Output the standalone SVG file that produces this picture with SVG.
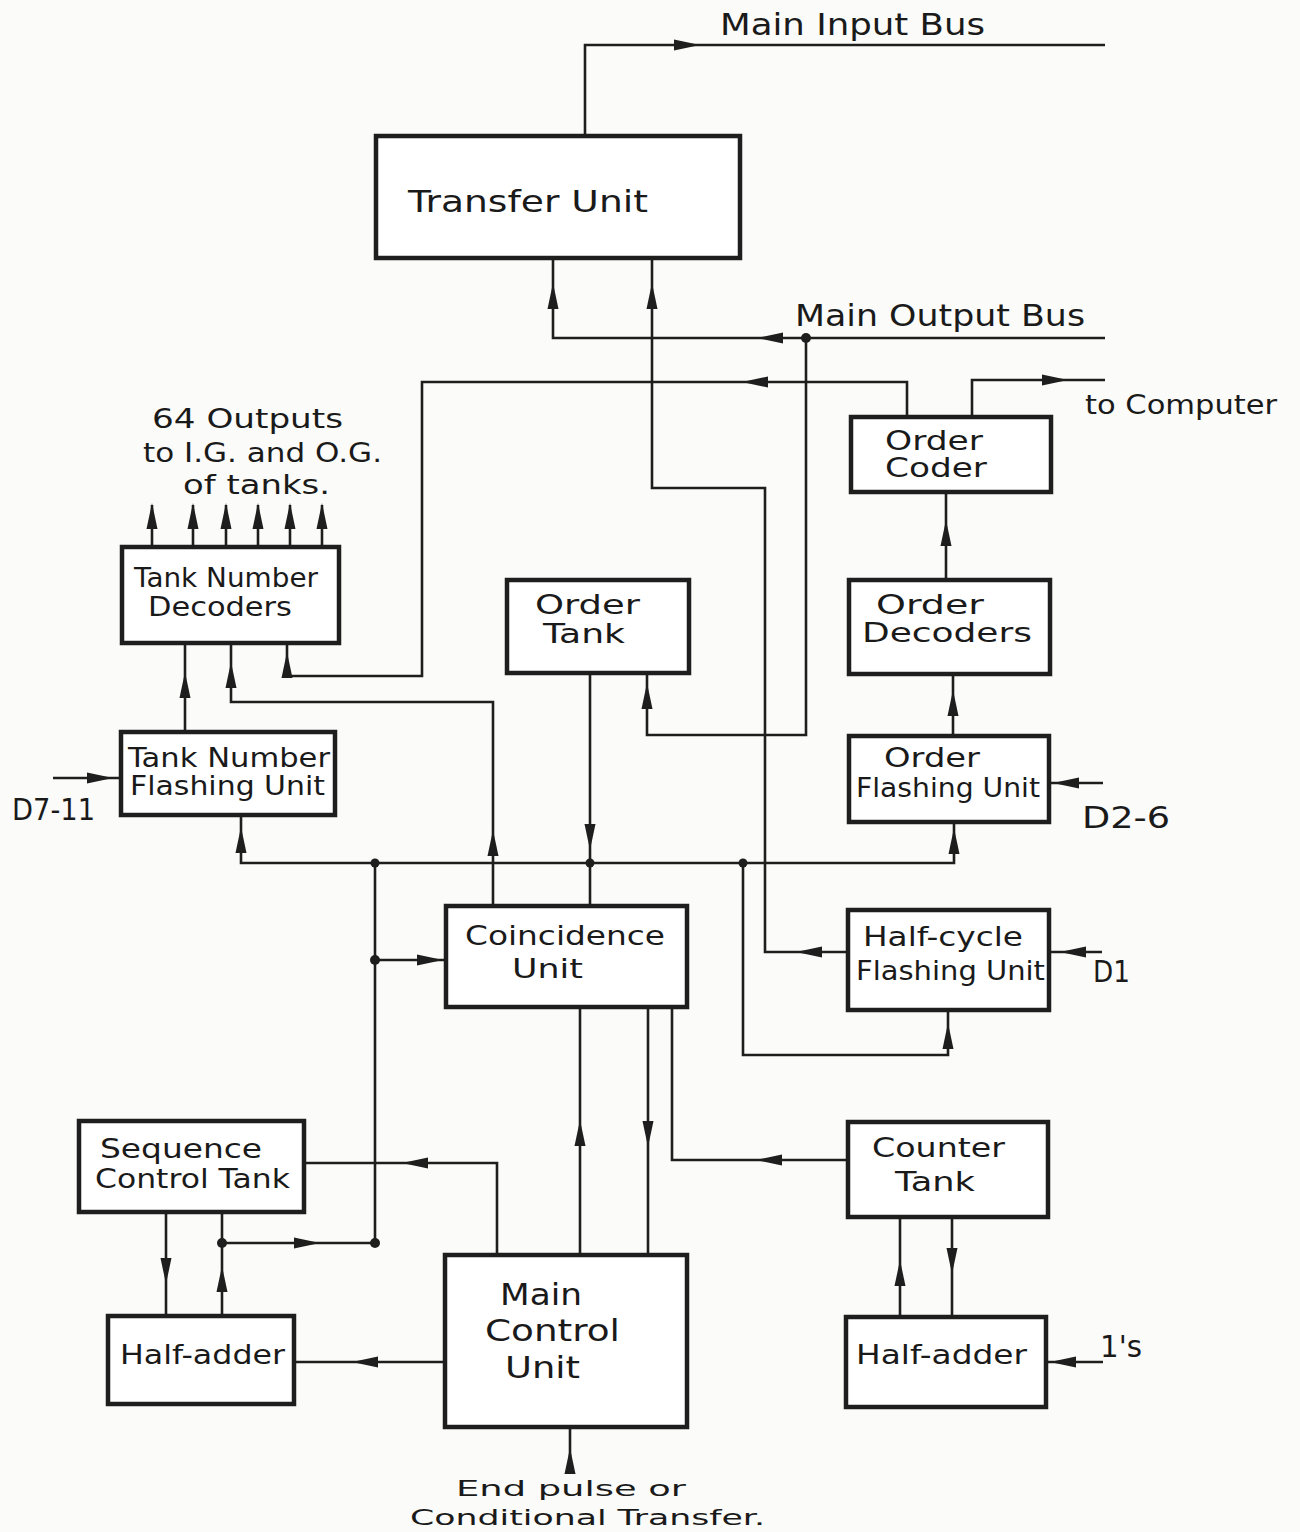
<svg xmlns="http://www.w3.org/2000/svg" xmlns:xlink="http://www.w3.org/1999/xlink" width="1300" height="1532" viewBox="0 0 1300 1532">
<style>
.box{fill:#ffffff;stroke:#1e1e1e;stroke-width:4.5}
.wire{fill:none;stroke:#1e1e1e;stroke-width:2.6;stroke-linejoin:miter}
.ah{fill:#1e1e1e}
.dot{fill:#1e1e1e}
text{font-family:"DejaVu Sans","Liberation Sans",sans-serif;fill:#1a1a1a;font-size:26px}
.big{font-size:30px}
.foot{font-size:22px}
</style>
<defs>
<path id="ah" d="M0,0 L-26,-5.5 L-26,5.5 Z"/>
</defs>
<rect width="1300" height="1532" fill="#fbfbf9"/>

<g id="connectors">
 <g class="wire">
  <polyline points="585,135 585,45 1105,45"/>
  <polyline points="553,258 553,338 1105,338"/>
  <polyline points="806,338 806,735 647,735 647,673"/>
  <polyline points="848,952 765,952 765,488 652,488 652,258"/>
  <polyline points="907,417 907,382 422,382 422,676 287,676 287,644"/>
  <polyline points="972,417 972,380 1105,380"/>
  <line x1="946" y1="579" x2="946" y2="492"/>
  <line x1="953" y1="735" x2="953" y2="673"/>
  <line x1="1103" y1="783" x2="1050" y2="783"/>
  <line x1="185" y1="732" x2="185" y2="644"/>
  <polyline points="493,906 493,702 231,702 231,644"/>
  <line x1="53" y1="778" x2="121" y2="778"/>
  <polyline points="241,815 241,863 954,863 954,822"/>
  <line x1="590" y1="673" x2="590" y2="906"/>
  <polyline points="743,863 743,1055 948,1055 948,1010"/>
  <line x1="375" y1="863" x2="375" y2="1243"/>
  <line x1="375" y1="960" x2="446" y2="960"/>
  <polyline points="304,1163 497,1163 497,1255"/>
  <line x1="580" y1="1255" x2="580" y2="1007"/>
  <line x1="648" y1="1007" x2="648" y2="1255"/>
  <polyline points="672,1007 672,1160 848,1160"/>
  <line x1="1102" y1="952" x2="1049" y2="952"/>
  <line x1="166" y1="1212" x2="166" y2="1316"/>
  <line x1="222" y1="1316" x2="222" y2="1212"/>
  <line x1="222" y1="1243" x2="375" y2="1243"/>
  <line x1="445" y1="1362" x2="294" y2="1362"/>
  <line x1="570" y1="1470" x2="570" y2="1427"/>
  <line x1="900" y1="1317" x2="900" y2="1217"/>
  <line x1="952" y1="1217" x2="952" y2="1317"/>
  <line x1="1103" y1="1362" x2="1046" y2="1362"/>
  <line x1="152" y1="547" x2="152" y2="505"/>
  <line x1="193" y1="547" x2="193" y2="505"/>
  <line x1="226" y1="547" x2="226" y2="505"/>
  <line x1="258" y1="547" x2="258" y2="505"/>
  <line x1="290" y1="547" x2="290" y2="505"/>
  <line x1="322" y1="547" x2="322" y2="505"/>
 </g>
 <g class="ah">
  <use xlink:href="#ah" transform="translate(700,45)"/>
  <use xlink:href="#ah" transform="translate(553,283) rotate(-90)"/>
  <use xlink:href="#ah" transform="translate(652,283) rotate(-90)"/>
  <use xlink:href="#ah" transform="translate(757,338) rotate(180)"/>
  <use xlink:href="#ah" transform="translate(742,382) rotate(180)"/>
  <use xlink:href="#ah" transform="translate(1068,380)"/>
  <use xlink:href="#ah" transform="translate(647,683) rotate(-90)"/>
  <use xlink:href="#ah" transform="translate(796,952) rotate(180)"/>
  <use xlink:href="#ah" transform="translate(287,652) rotate(-90)"/>
  <use xlink:href="#ah" transform="translate(946,520) rotate(-90)"/>
  <use xlink:href="#ah" transform="translate(953,690) rotate(-90)"/>
  <use xlink:href="#ah" transform="translate(954,828) rotate(-90)"/>
  <use xlink:href="#ah" transform="translate(1053,783) rotate(180)"/>
  <use xlink:href="#ah" transform="translate(185,672) rotate(-90)"/>
  <use xlink:href="#ah" transform="translate(231,662) rotate(-90)"/>
  <use xlink:href="#ah" transform="translate(113,778)"/>
  <use xlink:href="#ah" transform="translate(241,827) rotate(-90)"/>
  <use xlink:href="#ah" transform="translate(493,830) rotate(-90)"/>
  <use xlink:href="#ah" transform="translate(590,850) rotate(90)"/>
  <use xlink:href="#ah" transform="translate(948,1023) rotate(-90)"/>
  <use xlink:href="#ah" transform="translate(443,960)"/>
  <use xlink:href="#ah" transform="translate(402,1163) rotate(180)"/>
  <use xlink:href="#ah" transform="translate(580,1120) rotate(-90)"/>
  <use xlink:href="#ah" transform="translate(648,1147) rotate(90)"/>
  <use xlink:href="#ah" transform="translate(756,1160) rotate(180)"/>
  <use xlink:href="#ah" transform="translate(1060,952) rotate(180)"/>
  <use xlink:href="#ah" transform="translate(166,1284) rotate(90)"/>
  <use xlink:href="#ah" transform="translate(222,1266) rotate(-90)"/>
  <use xlink:href="#ah" transform="translate(320,1243)"/>
  <use xlink:href="#ah" transform="translate(352,1362) rotate(180)"/>
  <use xlink:href="#ah" transform="translate(570,1448) rotate(-90)"/>
  <use xlink:href="#ah" transform="translate(900,1260) rotate(-90)"/>
  <use xlink:href="#ah" transform="translate(952,1274) rotate(90)"/>
  <use xlink:href="#ah" transform="translate(1050,1362) rotate(180)"/>
  <use xlink:href="#ah" transform="translate(152,503) rotate(-90)"/>
  <use xlink:href="#ah" transform="translate(193,503) rotate(-90)"/>
  <use xlink:href="#ah" transform="translate(226,503) rotate(-90)"/>
  <use xlink:href="#ah" transform="translate(258,503) rotate(-90)"/>
  <use xlink:href="#ah" transform="translate(290,503) rotate(-90)"/>
  <use xlink:href="#ah" transform="translate(322,503) rotate(-90)"/>
 </g>
 <g class="dot">
  <circle cx="806" cy="338" r="5"/>
  <circle cx="375" cy="863" r="4.5"/>
  <circle cx="590" cy="863" r="4.5"/>
  <circle cx="743" cy="863" r="4.5"/>
  <circle cx="375" cy="960" r="5"/>
  <circle cx="222" cy="1243" r="5"/>
  <circle cx="375" cy="1243" r="5"/>
 </g>
</g>

<g id="transfer-unit">
 <rect class="box" x="376" y="136" width="364" height="122"/>
 <text class="big" x="408" y="212" textLength="240" lengthAdjust="spacingAndGlyphs">Transfer Unit</text>
</g>
<g id="order-coder">
 <rect class="box" x="851" y="417" width="200" height="75"/>
 <text x="885" y="450" textLength="98" lengthAdjust="spacingAndGlyphs">Order</text>
 <text x="885" y="477" textLength="102" lengthAdjust="spacingAndGlyphs">Coder</text>
</g>
<g id="tank-number-decoders">
 <rect class="box" x="122" y="547" width="217" height="96"/>
 <text x="134" y="587" font-size="24" textLength="184" lengthAdjust="spacingAndGlyphs">Tank Number</text>
 <text x="148" y="616" font-size="24" textLength="144" lengthAdjust="spacingAndGlyphs">Decoders</text>
</g>
<g id="order-tank">
 <rect class="box" x="507" y="580" width="182" height="93"/>
 <text x="535" y="614" textLength="105" lengthAdjust="spacingAndGlyphs">Order</text>
 <text x="543" y="643" textLength="82" lengthAdjust="spacingAndGlyphs">Tank</text>
</g>
<g id="order-decoders">
 <rect class="box" x="849" y="580" width="201" height="94"/>
 <text x="876" y="614" textLength="108" lengthAdjust="spacingAndGlyphs">Order</text>
 <text x="862" y="642" textLength="170" lengthAdjust="spacingAndGlyphs">Decoders</text>
</g>
<g id="tank-number-flashing-unit">
 <rect class="box" x="121" y="732" width="214" height="83"/>
 <text x="128" y="767" textLength="202" lengthAdjust="spacingAndGlyphs">Tank Number</text>
 <text x="130" y="795" textLength="195" lengthAdjust="spacingAndGlyphs">Flashing Unit</text>
</g>
<g id="order-flashing-unit">
 <rect class="box" x="849" y="736" width="200" height="86"/>
 <text x="884" y="767" textLength="96" lengthAdjust="spacingAndGlyphs">Order</text>
 <text x="856" y="797" textLength="184" lengthAdjust="spacingAndGlyphs">Flashing Unit</text>
</g>
<g id="coincidence-unit">
 <rect class="box" x="446" y="906" width="241" height="101"/>
 <text x="465" y="945" textLength="200" lengthAdjust="spacingAndGlyphs">Coincidence</text>
 <text x="512" y="978" textLength="71" lengthAdjust="spacingAndGlyphs">Unit</text>
</g>
<g id="half-cycle-flashing-unit">
 <rect class="box" x="848" y="910" width="201" height="100"/>
 <text x="863" y="946" textLength="160" lengthAdjust="spacingAndGlyphs">Half-cycle</text>
 <text x="856" y="980" textLength="189" lengthAdjust="spacingAndGlyphs">Flashing Unit</text>
</g>
<g id="sequence-control-tank">
 <rect class="box" x="79" y="1121" width="225" height="91"/>
 <text x="100" y="1158" textLength="162" lengthAdjust="spacingAndGlyphs">Sequence</text>
 <text x="95" y="1188" textLength="195" lengthAdjust="spacingAndGlyphs">Control Tank</text>
</g>
<g id="counter-tank">
 <rect class="box" x="848" y="1122" width="200" height="95"/>
 <text x="872" y="1157" textLength="133" lengthAdjust="spacingAndGlyphs">Counter</text>
 <text x="895" y="1191" textLength="80" lengthAdjust="spacingAndGlyphs">Tank</text>
</g>
<g id="half-adder-left">
 <rect class="box" x="108" y="1316" width="186" height="88"/>
 <text x="120" y="1364" textLength="165" lengthAdjust="spacingAndGlyphs">Half-adder</text>
</g>
<g id="main-control-unit">
 <rect class="box" x="445" y="1255" width="242" height="172"/>
 <text class="big" x="500" y="1305" textLength="82" lengthAdjust="spacingAndGlyphs">Main</text>
 <text class="big" x="485" y="1341" textLength="135" lengthAdjust="spacingAndGlyphs">Control</text>
 <text class="big" x="505" y="1378" textLength="75" lengthAdjust="spacingAndGlyphs">Unit</text>
</g>
<g id="half-adder-right">
 <rect class="box" x="846" y="1317" width="200" height="90"/>
 <text x="856" y="1364" textLength="171" lengthAdjust="spacingAndGlyphs">Half-adder</text>
</g>

<g id="labels">
 <text class="big" x="720" y="35" textLength="265" lengthAdjust="spacingAndGlyphs">Main Input Bus</text>
 <text class="big" x="795" y="326" textLength="290" lengthAdjust="spacingAndGlyphs">Main Output Bus</text>
 <text x="1085" y="414" textLength="192" lengthAdjust="spacingAndGlyphs">to Computer</text>
 <text x="152" y="428" textLength="191" lengthAdjust="spacingAndGlyphs">64 Outputs</text>
 <text x="143" y="462" textLength="239" lengthAdjust="spacingAndGlyphs">to I.G. and O.G.</text>
 <text x="183" y="494" textLength="147" lengthAdjust="spacingAndGlyphs">of tanks.</text>
 <text class="big" x="12" y="820" textLength="83" lengthAdjust="spacingAndGlyphs">D7-11</text>
 <text class="big" x="1082" y="828" textLength="88" lengthAdjust="spacingAndGlyphs">D2-6</text>
 <text class="big" x="1093" y="982" textLength="37" lengthAdjust="spacingAndGlyphs">D1</text>
 <text class="big" x="1100" y="1357" textLength="42" lengthAdjust="spacingAndGlyphs">1's</text>
 <text class="foot" x="456" y="1496" textLength="230" lengthAdjust="spacingAndGlyphs">End pulse or</text>
 <text class="foot" x="410" y="1525" textLength="355" lengthAdjust="spacingAndGlyphs">Conditional Transfer.</text>
</g>
</svg>
